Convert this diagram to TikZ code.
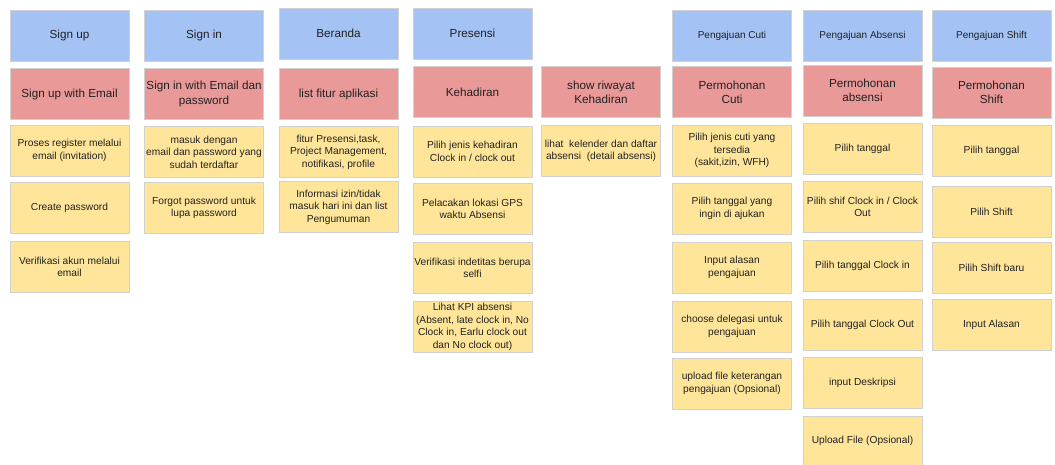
\documentclass[tikz,border=0pt]{standalone}
\usepackage{fontspec}
\setmainfont{Liberation Sans}
\definecolor{hdrblue}{HTML}{A4C2F4}
\definecolor{featred}{HTML}{EA9999}
\definecolor{stepyellow}{HTML}{FFE599}
\definecolor{txtdark}{HTML}{222222}
\begin{document}
\begin{tikzpicture}[x=1pt,y=-1pt,
  card/.style={rectangle,draw=black!18,line width=0.4pt,minimum width=119pt,
    minimum height=51pt,inner xsep=0pt,inner ysep=1pt,align=center,
    text=txtdark},
  header/.style={card,fill=hdrblue,font=\fontsize{11.7}{14}\selectfont},
  subheader/.style={card,fill=hdrblue,font=\fontsize{10}{12}\selectfont},
  feature/.style={card,fill=featred,font=\fontsize{11.7}{14.3}\selectfont},
  detail/.style={card,fill=stepyellow,font=\fontsize{10.2}{12.5}\selectfont}]
\useasboundingbox (0,0) rectangle (1055,465);

% Sign up
\node[header]  (su)  at (69.5,35.5) {Sign up};
\node[feature] (suf) at (69.5,94)   {Sign up with Email};
\node[detail]  (su1) at (69.5,150.5){Proses register melalui\\email (invitation)};
\node[detail]  (su2) at (69.5,208)  {Create password};
\node[detail]  (su3) at (69.5,267)  {Verifikasi akun melalui\\email};

% Sign in
\node[header]  (si)  at (204,35.5)  {Sign in};
\node[feature] (sif) at (204,94)    {Sign in with Email dan\\password};
\node[detail]  (si1) at (204,152)   {masuk dengan\\email dan password yang\\sudah terdaftar};
\node[detail]  (si2) at (204,208)   {Forgot password untuk\\lupa password};

% Beranda
\node[header]  (be)  at (338.5,33.5){Beranda};
\node[feature] (bef) at (338.5,94)  {list fitur aplikasi};
\node[detail]  (be1) at (338.5,152) {fitur Presensi,task,\\Project Management,\\notifikasi, profile};
\node[detail]  (be2) at (338.5,207) {Informasi izin/tidak\\masuk hari ini dan list\\Pengumuman};

% Presensi
\node[header]  (pr)  at (472.5,33.5){Presensi};
\node[feature] (prf) at (472.5,92)  {Kehadiran};
\node[detail]  (pr1) at (472.5,151.5){Pilih jenis kehadiran\\Clock in / clock out};
\node[detail]  (pr2) at (472.5,209) {Pelacakan lokasi GPS\\waktu Absensi};
\node[detail]  (pr3) at (472.5,268) {Verifikasi indetitas berupa\\selfi};
\node[detail]  (pr4) at (472.5,327) {Lihat KPI absensi\\(Absent, late clock in, No\\Clock in, Earlu clock out\\dan No clock out)};

% Riwayat kehadiran
\node[feature] (rwf) at (601,92)    {show riwayat\\Kehadiran};
\node[detail]  (rw1) at (601,151)   {lihat\ \ kelender dan daftar\\absensi\ \ (detail absensi)};

% Pengajuan Cuti
\node[subheader] (pc)  at (732,35.5) {Pengajuan Cuti};
\node[feature]   (pcf) at (732,92)   {Permohonan\\Cuti};
\node[detail]    (pc1) at (732,150.5){Pilih jenis cuti yang\\tersedia\\(sakit,izin, WFH)};
\node[detail]    (pc2) at (732,208.5){Pilih tanggal yang\\ingin di ajukan};
\node[detail]    (pc3) at (732,267.5){Input alasan\\pengajuan};
\node[detail]    (pc4) at (732,326.5){choose delegasi untuk\\pengajuan};
\node[detail]    (pc5) at (732,383.5){upload file keterangan\\pengajuan (Opsional)};

% Pengajuan Absensi
\node[subheader] (pa)  at (862.5,35.5) {Pengajuan Absensi};
\node[feature]   (paf) at (862.5,90.5) {Permohonan\\absensi};
\node[detail]    (pa1) at (862.5,148.5){Pilih tanggal};
\node[detail]    (pa2) at (862.5,207)  {Pilih shif Clock in / Clock\\Out};
\node[detail]    (pa3) at (862.5,265.5){Pilih tanggal Clock in};
\node[detail]    (pa4) at (862.5,324.5){Pilih tanggal Clock Out};
\node[detail]    (pa5) at (862.5,382.5){input Deskripsi};
\node[detail,minimum height=49pt] (pa6) at (862.5,440.5){Upload File (Opsional)};

% Pengajuan Shift
\node[subheader] (ps)  at (991.5,35.5) {Pengajuan Shift};
\node[feature]   (psf) at (991.5,92.5) {Permohonan\\Shift};
\node[detail]    (ps1) at (991.5,151)  {Pilih tanggal};
\node[detail]    (ps2) at (991.5,212)  {Pilih Shift};
\node[detail]    (ps3) at (991.5,267.5){Pilih Shift baru};
\node[detail]    (ps4) at (991.5,324.5){Input Alasan};
\end{tikzpicture}
\end{document}
